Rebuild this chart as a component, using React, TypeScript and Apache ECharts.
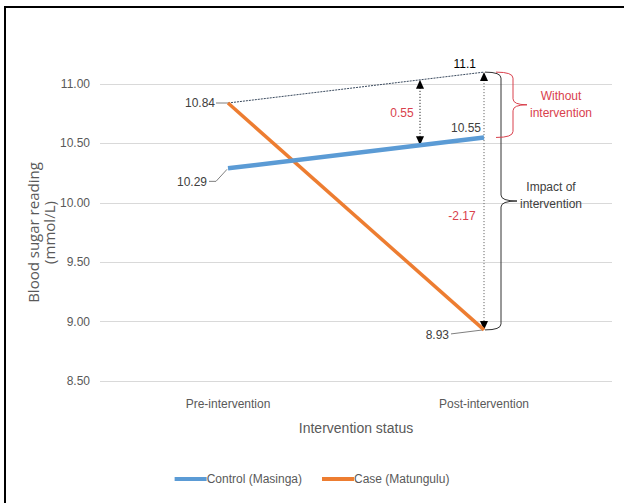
import { useEffect, useRef } from 'react';
import * as echarts from 'echarts';

const categories = ['Pre-intervention', 'Post-intervention'];
const controlName = 'Control (Masinga)';
const caseName = 'Case (Matungulu)';
const controlValues = [10.29, 10.55];
const caseValues = [10.84, 8.93];
const projectedValues = [10.84, 11.1];
const yMin = 8.5;
const yMax = 11;
const yInterval = 0.5;

const FONT = "'Liberation Sans Narrow', 'Liberation Sans', Arial, sans-serif";
const GREY = '#595959';
const DARK = '#404040';
const RED = '#d9414d';
const BLUE = '#5b9bd5';
const ORANGE = '#ed7d31';

function brace(x0: number, x1: number, x2: number, yTop: number, yBot: number, color: string) {
  const r = 6;
  const yMid = (yTop + yBot) / 2;
  const style = { stroke: color, lineWidth: 1, fill: 'none' };
  return [
    { type: 'bezierCurve', silent: true, shape: { x1: x0, y1: yTop, cpx1: x1, cpy1: yTop, x2: x1, y2: yTop + r }, style },
    { type: 'line', silent: true, shape: { x1: x1, y1: yTop + r, x2: x1, y2: yMid - r }, style },
    { type: 'bezierCurve', silent: true, shape: { x1: x1, y1: yMid - r, cpx1: x1, cpy1: yMid, x2: x2, y2: yMid }, style },
    { type: 'bezierCurve', silent: true, shape: { x1: x2, y1: yMid, cpx1: x1, cpy1: yMid, x2: x1, y2: yMid + r }, style },
    { type: 'line', silent: true, shape: { x1: x1, y1: yMid + r, x2: x1, y2: yBot - r }, style },
    { type: 'bezierCurve', silent: true, shape: { x1: x1, y1: yBot - r, cpx1: x1, cpy1: yBot, x2: x0, y2: yBot }, style },
  ];
}

function arrowHead(x: number, yTip: number, dir: 1 | -1) {
  return {
    type: 'polygon',
    silent: true,
    shape: { points: [[x, yTip], [x - 4, yTip + dir * 9], [x + 4, yTip + dir * 9]] },
    style: { fill: '#000' },
  };
}

function label(text: string, x: number, y: number, align: string, color: string, size = 12) {
  return {
    type: 'text',
    silent: true,
    x,
    y,
    style: { text, fill: color, font: `${size}px ${FONT}`, align, verticalAlign: 'middle', lineHeight: 17 },
  };
}

export default function App() {
  const ref = useRef<HTMLDivElement>(null);
  useEffect(() => {
    document.body.style.margin = '0';
    const chart = echarts.init(ref.current!, undefined, { renderer: 'svg' });
    chart.setOption({
      animation: false,
      backgroundColor: '#fff',
      grid: { left: 100, right: 12, top: 84, bottom: 122 },
      xAxis: {
        type: 'category',
        data: categories,
        boundaryGap: true,
        axisLine: { show: false },
        axisTick: { show: false },
        axisLabel: { color: GREY, fontSize: 12, fontFamily: FONT, margin: 17 },
        name: 'Intervention status',
        nameLocation: 'middle',
        nameGap: 40,
        nameTextStyle: { color: GREY, fontSize: 14, fontFamily: FONT },
      },
      yAxis: {
        type: 'value',
        min: yMin,
        max: yMax,
        interval: yInterval,
        axisLine: { show: false },
        axisTick: { show: false },
        splitLine: { lineStyle: { color: '#d9d9d9', width: 1 } },
        axisLabel: { color: GREY, fontSize: 12, fontFamily: FONT, margin: 10, formatter: (v: number) => v.toFixed(2) },
        name: 'Blood sugar reading\n(mmol/L)',
        nameLocation: 'middle',
        nameRotate: 90,
        nameGap: 43,
        nameMoveOverlap: false,
        nameTextStyle: { color: GREY, fontSize: 15, fontFamily: "'Open Sans', sans-serif", lineHeight: 16 },
      },
      legend: {
        data: [controlName, caseName],
        top: 468,
        left: 'center',
        icon: 'rect',
        itemWidth: 32,
        itemHeight: 4,
        itemGap: 20,
        textStyle: { color: GREY, fontSize: 12, fontFamily: FONT, padding: [0, 0, 0, -5] },
      },
      series: [
        {
          name: 'Projected',
          type: 'line',
          data: projectedValues,
          symbol: 'none',
          silent: true,
          clip: false,
          lineStyle: { color: '#3a4a5e', width: 1, type: [2, 1] },
          z: 1,
        },
        {
          name: controlName,
          type: 'line',
          data: controlValues,
          symbol: 'none',
          lineStyle: { color: BLUE, width: 4.5 },
          itemStyle: { color: BLUE },
          z: 3,
        },
        {
          name: caseName,
          type: 'line',
          data: caseValues,
          symbol: 'none',
          lineStyle: { color: ORANGE, width: 3.5 },
          itemStyle: { color: ORANGE },
          z: 2,
        },
      ],
    });

    const px = (i: number, v: number) => chart.convertToPixel({ gridIndex: 0 }, [i, v]) as number[];
    const ctrlPre = px(0, controlValues[0]);
    const ctrlPost = px(1, controlValues[1]);
    const casePost = px(1, caseValues[1]);
    const projPre = px(0, projectedValues[0]);
    const projPost = px(1, projectedValues[1]);
    const preX = ctrlPre[0];
    const postX = ctrlPost[0];

    const f = 0.75;
    const aX = preX + f * (postX - preX);
    const aTop = projPre[1] + f * (projPost[1] - projPre[1]);
    const aBot = ctrlPre[1] + f * (ctrlPost[1] - ctrlPre[1]);

    const withoutDiff = (projectedValues[1] - controlValues[1]).toFixed(2);
    const impactDiff = (caseValues[1] - projectedValues[1]).toFixed(2);

    const yTop = projPost[1];
    const yBotBlack = casePost[1];
    const yBotRed = ctrlPost[1];
    const blackMid = (yTop + yBotBlack) / 2;
    const redMid = (yTop + yBotRed) / 2;

    const dotted = { stroke: '#000', lineWidth: 1, lineDash: [1, 2] };

    chart.setOption({
      graphic: [
        { type: 'polyline', silent: true, shape: { points: [[5, 503], [5, 7], [624, 7]] }, style: { stroke: '#000', lineWidth: 2, fill: 'none' } },
        { type: 'line', silent: true, shape: { x1: aX, y1: aTop + 8, x2: aX, y2: aBot - 8 }, style: dotted },
        arrowHead(aX, aTop, 1),
        arrowHead(aX, aBot, -1),
        label(withoutDiff, aX - 18, (aTop + aBot) / 2, 'center', RED),
        { type: 'line', silent: true, shape: { x1: postX, y1: yTop + 8, x2: postX, y2: yBotBlack - 8 }, style: { stroke: '#555', lineWidth: 1, lineDash: [1, 2] } },
        arrowHead(postX, yTop, 1),
        arrowHead(postX, yBotBlack, -1),
        label(impactDiff, postX - 22, yTop + 0.56 * (yBotBlack - yTop), 'center', RED),
        ...brace(postX + 1, postX + 17, postX + 33, yTop, yBotBlack, '#333'),
        ...brace(postX + 12, postX + 29, postX + 43, yTop, yBotRed, RED),
        label('Without\nintervention', postX + 77, redMid, 'center', RED, 12),
        label('Impact of\nintervention', postX + 67, blackMid - 6, 'center', DARK, 12),
        label(projectedValues[0].toFixed(2), projPre[0] - 13, projPre[1], 'right', DARK),
        { type: 'line', silent: true, shape: { x1: projPre[0] - 12, y1: projPre[1], x2: projPre[0], y2: projPre[1] }, style: { stroke: '#7f7f7f', lineWidth: 1 } },
        label(controlValues[0].toFixed(2), ctrlPre[0] - 21, ctrlPre[1] + 14, 'right', DARK),
        { type: 'polyline', silent: true, shape: { points: [[ctrlPre[0] - 19, ctrlPre[1] + 13], [ctrlPre[0] - 12, ctrlPre[1] + 13], [ctrlPre[0] - 1, ctrlPre[1] + 1]] }, style: { stroke: '#7f7f7f', lineWidth: 1, fill: 'none' } },
        label(String(projectedValues[1]), projPost[0] - 8, projPost[1] - 8, 'right', '#000'),
        label(controlValues[1].toFixed(2), ctrlPost[0] - 3, ctrlPost[1] - 9, 'right', DARK),
        label(caseValues[1].toFixed(2), casePost[0] - 35, casePost[1] + 5, 'right', DARK),
        { type: 'line', silent: true, shape: { x1: casePost[0] - 33, y1: casePost[1] + 4, x2: casePost[0] - 1, y2: casePost[1] }, style: { stroke: '#7f7f7f', lineWidth: 1 } },
      ],
    });

    return () => chart.dispose();
  }, []);
  return <div ref={ref} style={{ width: 624, height: 503 }} />;
}
